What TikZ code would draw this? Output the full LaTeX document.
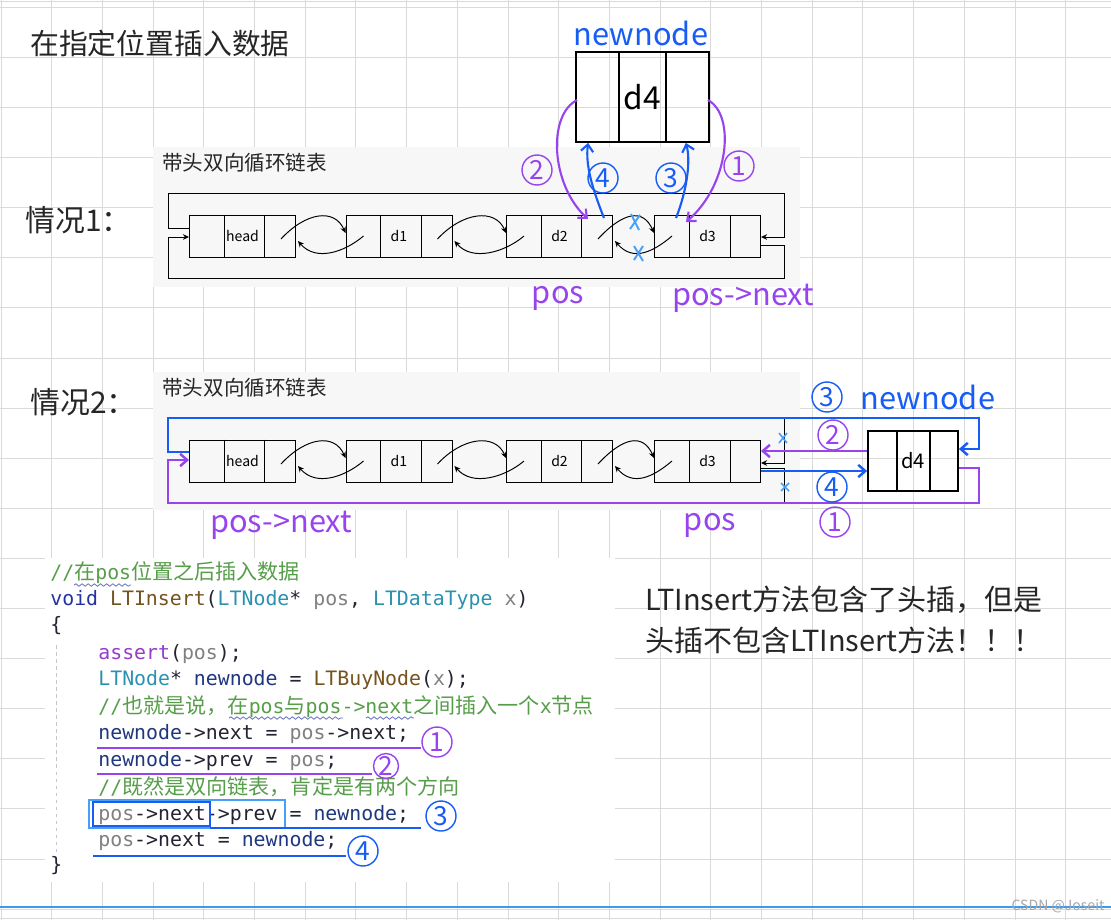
\documentclass[tikz,border=0pt]{standalone}
\usepackage{fontspec}
\setmainfont{Noto Sans CJK SC}
\setmonofont{DejaVu Sans Mono}
\usepackage{xcolor}
\usepackage{tikz}
\usetikzlibrary{arrows.meta,calc,decorations.pathmorphing}
\definecolor{gridGray}{RGB}{218,218,218}
\definecolor{panelGray}{RGB}{247,247,247}
\definecolor{hPurple}{RGB}{152,68,238}
\definecolor{hBlue}{RGB}{22,92,245}
\definecolor{xBlue}{RGB}{70,160,250}
\definecolor{lineBlue}{RGB}{60,155,240}
\definecolor{codeCm}{RGB}{87,158,74}
\definecolor{codeKw}{RGB}{35,50,160}
\definecolor{codeFn}{RGB}{116,83,31}
\definecolor{codeTy}{RGB}{43,145,175}
\definecolor{codePar}{RGB}{128,128,128}
\definecolor{codeVar}{RGB}{31,55,127}
\definecolor{codeMac}{RGB}{150,60,200}
\definecolor{codeDark}{RGB}{35,35,50}
\newcommand{\zh}[1]{{\rmfamily\fontsize{12}{14}\selectfont #1}}

\begin{document}
\begin{tikzpicture}[x=0.02cm,y=-0.02cm]
\tikzset{
    grid line/.style={draw=gridGray, line width=0.5pt},
    list box/.style={
        rectangle, draw=black, line width=0.55pt,
        minimum width=2.12cm, minimum height=0.84cm, inner sep=0,
        font=\fontsize{8}{9}\selectfont
    },
    new box/.style={
        rectangle, draw=black, line width=1pt, inner sep=0
    },
    ptr/.style={line width=0.55pt, -{Stealth[length=3.5pt,width=3.2pt]}},
    plain line/.style={line width=0.55pt},
    hand purple/.style={draw=hPurple, line width=1.2pt},
    hand blue/.style={draw=hBlue, line width=1.2pt},
    hand tip/.style={-{Straight Barb[length=4pt,width=7pt]}},
    num circle/.style={
        circle, draw=#1, text=#1, line width=0.8pt,
        minimum size=0.6cm, inner sep=0, font=\fontsize{15}{15}\selectfont
    },
    xmark/.style={draw=xBlue, line width=1.1pt},
    title text/.style={anchor=west, inner sep=0, text=black!85},
    tag text/.style={inner sep=0, font=\fontsize{17.5}{20}\selectfont},
    code/.style={anchor=west, inner sep=0, text=codeDark,
        font=\ttfamily\fontsize{11.3}{13}\selectfont},
    wavy/.style={draw=codeKw!70, line width=0.45pt, decorate,
        decoration={snake, amplitude=0.7pt, segment length=3.5pt}}
}
\useasboundingbox (0,0) rectangle (1111,920);

% Grila de fundal
\fill[white] (0,0) rectangle (1111,920);
\foreach \i in {0,...,21} \draw[grid line] (1+50.7*\i,0) -- (1+50.7*\i,920);
\foreach \j in {0,...,18} \draw[grid line] (0,7.3+50.1*\j) -- (1111,7.3+50.1*\j);
\draw[grid line] (0,1) -- (1111,1);
\draw[grid line] (0,918) -- (1111,918);
\draw[lineBlue, line width=1.2pt] (0,907) -- (1111,907);

% Panouri
\fill[panelGray] (153,147) rectangle (800,287);
\fill[panelGray] (153,372) rectangle (800,510);
\fill[white] (45,558) rectangle (615,882);

% Titluri
\node[title text, font=\fontsize{16.4}{20}\selectfont] (title) at (30,43) {在指定位置插入数据};
\node[title text, font=\fontsize{17}{20}\selectfont] (caseA) at (25,220) {情况1：};
\node[title text, font=\fontsize{17}{20}\selectfont] (caseB) at (30,402) {情况2：};
\node[title text, font=\fontsize{11.7}{14}\selectfont] (listA) at (162,163) {带头双向循环链表};
\node[title text, font=\fontsize{11.7}{14}\selectfont] (listB) at (162,388) {带头双向循环链表};

% Noduri - situatia 1
\node[list box] (headA) at (242.5,236) {head};
\node[list box] (d1A)   at (399,236)   {d1};
\node[list box] (d2A)   at (559.5,236) {d2};
\node[list box] (d3A)   at (707.5,236) {d3};
\node[new box, minimum width=2.66cm, minimum height=1.8cm,
      font=\fontsize{18}{20}\selectfont] (newA) at (642.5,97) {d4};

% Noduri - situatia 2
\node[list box] (headB) at (242.5,461) {head};
\node[list box] (d1B)   at (399,461)   {d1};
\node[list box] (d2B)   at (559.5,461) {d2};
\node[list box] (d3B)   at (707.5,461) {d3};
\node[new box, minimum width=1.8cm, minimum height=1.2cm,
      font=\fontsize{11.5}{13}\selectfont] (newB) at (913,461) {d4};

% Celule
\foreach \n in {headA,d1A,d2A,d3A,headB,d1B,d2B,d3B}
  \draw[plain line] ($(\n.north west)+(35,0)$) -- ($(\n.south west)+(35,0)$)
                    ($(\n.north east)+(-31,0)$) -- ($(\n.south east)+(-31,0)$);
\draw[line width=1pt] ($(newA.north west)+(44,0)$) -- ($(newA.south west)+(44,0)$)
                      ($(newA.north east)+(-44,0)$) -- ($(newA.south east)+(-44,0)$);
\draw[line width=1pt] ($(newB.north west)+(30,0)$) -- ($(newB.south west)+(30,0)$)
                      ($(newB.north east)+(-29,0)$) -- ($(newB.south east)+(-29,0)$);

% Legaturi next / prev
\foreach \a/\b in {headA/d1A,d1A/d2A,d2A/d3A,headB/d1B,d1B/d2B,d2B/d3B}{
  \draw[ptr] ($(\a.east)+(-15,3)$) .. controls +(25,-27) and +(-11,-25) .. ($(\b.west)+(0,-3)$);
  \draw[ptr] ($(\b.west)+(18,0)$) .. controls +(-19,16) and +(18,21) .. ($(\a.east)+(2,5)$);
}

% Bucla circulara - situatia 1
\draw[ptr] ($(headA.west)+(0,-8)$) -| ($(headA.west)+(-21,-43)$) -| ($(d3A.east)+(23,1)$) -- ($(d3A.east)+(0,1)$);
\draw[ptr] ($(d3A.east)+(0,9)$) -| ($(d3A.east)+(23,42)$) -| ($(headA.west)+(-21,1)$) -- ($(headA.west)+(0,1)$);

% Sageti desenate - situatia 1
\draw[hand purple, hand tip] ($(newA.west)+(2,3)$) .. controls +(-30,15) and +(-37,-34) .. ($(d2A.east)+(-25,-17)$);
\draw[hand blue, hand tip] ($(d2A.east)+(-9,-18)$) .. controls +(-11,-28) and +(-3,23) .. ($(newA.south west)+(13,0)$);
\draw[hand blue, hand tip] ($(d3A.west)+(22,-18)$) .. controls +(11,-28) and +(5,18) .. ($(newA.south east)+(-24,0)$);
\draw[hand purple, hand tip] ($(newA.east)+(-2,3)$) .. controls +(28,15) and +(43,-37) .. ($(d3A.west)+(32,-14)$);
\node[num circle=hPurple] (twoA)   at (537,170) {2};
\node[num circle=hBlue]   (fourA)  at (603,178) {4};
\node[num circle=hBlue]   (threeA) at (671,178) {3};
\node[num circle=hPurple] (oneA)   at (739,166) {1};
\draw[xmark] (631,214) -- (639,230) (640,215) -- (630,229);
\draw[xmark] (634,246) -- (643,261) (643,246) -- (634,260);

% Bucla circulara - situatia 2
\draw[ptr] ($(d3B.east)+(23,-43)$) |- ($(d3B.east)+(0,2)$);
\draw[plain line] ($(d3B.east)+(0,7)$) -| ($(d3B.east)+(23,42)$);
\draw[hand blue, line width=1.4pt, hand tip] ($(headB.west)+(0,-9)$) -| ($(headB.west)+(-21,-43)$) -| ($(newB.east)+(20,-12)$) -- ($(newB.east)+(0,-12)$);
\draw[hand purple, line width=1.4pt, hand tip] ($(newB.east)+(0,7)$) -| ($(newB.east)+(20,42)$) -| ($(headB.west)+(-21,-1)$) -- ($(headB.west)+(0,-1)$);
\draw[hand purple, line width=1.4pt, hand tip] ($(newB.west)+(0,-10)$) -- ($(d3B.east)+(0,-10)$);
\draw[hand blue, line width=1.4pt, hand tip] ($(d3B.east)+(0,10)$) -- ($(newB.west)+(0,10)$);
\node[num circle=hBlue]   (threeB) at (827,397) {3};
\node[num circle=hPurple] (twoB)   at (833,435) {2};
\node[num circle=hBlue]   (fourB)  at (832,487) {4};
\node[num circle=hPurple] (oneB)   at (835,522) {1};
\draw[xmark, line width=0.9pt] (779,433) -- (787,443) (787,433) -- (779,443);
\draw[xmark, line width=0.9pt] (781,483) -- (789,491) (789,483) -- (781,491);

% Etichete
\node[tag text, text=hBlue]   (newLblA)  at (641,33)  {newnode};
\node[tag text, text=hPurple] (posA)     at (558,298) {pos};
\node[tag text, text=hPurple] (posNextA) at (743,298) {pos->next};
\node[tag text, text=hBlue]   (newLblB)  at (928,397) {newnode};
\node[tag text, text=hPurple] (posNextB) at (281,525) {pos->next};
\node[tag text, text=hPurple] (posB)     at (710,525) {pos};

% Cod
\draw[gray!45, line width=0.4pt, dash pattern=on 2pt off 2pt] (56,645) -- (56,855);
\node[code] (l1)  at (50,573)  {\textcolor{codeCm}{//\zh{在}pos\zh{位置之后插入数据}}};
\node[code] (l2)  at (50,600)  {\textcolor{codeKw}{void} \textcolor{codeFn}{LTInsert}(\textcolor{codeTy}{LTNode}* \textcolor{codePar}{pos}, \textcolor{codeTy}{LTDataType} \textcolor{codePar}{x})};
\node[code] (l3)  at (50,626)  {\{};
\node[code] (l4)  at (98,654)  {\textcolor{codeMac}{assert}(\textcolor{codePar}{pos});};
\node[code] (l5)  at (98,680)  {\textcolor{codeTy}{LTNode}* \textcolor{codeVar}{newnode} = \textcolor{codeFn}{LTBuyNode}(\textcolor{codePar}{x});};
\node[code] (l6)  at (98,707)  {\textcolor{codeCm}{//\zh{也就是说，在}pos\zh{与}pos->next\zh{之间插入一个}x\zh{节点}}};
\node[code] (l7)  at (98,734)  {\textcolor{codeVar}{newnode}->next = \textcolor{codePar}{pos}->next;};
\node[code] (l8)  at (98,761)  {\textcolor{codeVar}{newnode}->prev = \textcolor{codePar}{pos};};
\node[code] (l9)  at (98,787)  {\textcolor{codeCm}{//\zh{既然是双向链表，肯定是有两个方向}}};
\node[code] (l10) at (98,815)  {\textcolor{codePar}{pos}->next->prev = \textcolor{codeVar}{newnode};};
\node[code] (l11) at (98,841)  {\textcolor{codePar}{pos}->next = \textcolor{codeVar}{newnode};};
\node[code] (l12) at (50,866)  {\}};
\draw[wavy] (74,585) -- (131,585);
\draw[wavy] (229,718) -- (343,718);
\draw[wavy] (366,718) -- (414,718);

% Marcaje in cod
\draw[hand purple, line width=1pt] (97,748) -- (421,748);
\draw[hand purple, line width=1pt] (97,774) -- (372,774);
\draw[xBlue, line width=1pt] (89,800) rectangle (285,828);
\draw[hand blue, line width=1pt] (93,802) rectangle (210,826);
\draw[hand blue, line width=1pt] (210,828) -- (421,828);
\draw[hand blue, line width=1pt] (93,856) -- (346,856);
\node[num circle=hPurple] (oneC)   at (437,742) {1};
\node[num circle=hPurple, minimum size=0.5cm] (twoC) at (386,766) {2};
\node[num circle=hBlue]   (threeC) at (441,816) {3};
\node[num circle=hBlue]   (fourC)  at (363,851) {4};

% Nota din dreapta
\node[title text, font=\fontsize{16.5}{20}\selectfont] (noteA) at (645,600) {LTInsert方法包含了头插，但是};
\node[title text, font=\fontsize{16.5}{20}\selectfont] (noteB) at (645,640) {头插不包含LTInsert方法！！！};
\node[inner sep=0, font=\fontsize{8}{9}\selectfont, text=gray!70] (mark) at (1058,906) {CSDN @Joseit};
\end{tikzpicture}
\end{document}
